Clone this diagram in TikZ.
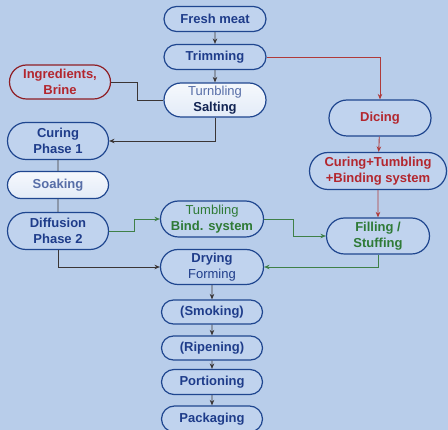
\documentclass[tikz,border=0pt]{standalone}
\usepackage{fontspec}
\setmainfont{Liberation Sans}
\usetikzlibrary{shapes.misc,arrows.meta}
\definecolor{bgblue}{HTML}{B8CDEA}
\definecolor{boxfill}{HTML}{C0D3EE}
\definecolor{boxline}{HTML}{1F468F}
\definecolor{txtblue}{HTML}{1E3C8A}
\definecolor{txtred}{HTML}{B3262E}
\definecolor{txtgreen}{HTML}{2E7A36}
\definecolor{lnred}{HTML}{B03A3A}
\definecolor{lngreen}{HTML}{3F8048}
\definecolor{lndark}{HTML}{3A3535}
\tikzset{
  pbox/.style={rounded rectangle, draw=boxline, line width=1.2pt, fill=boxfill,
    minimum width=104pt, minimum height=25pt, inner sep=1pt, align=center,
    text=txtblue, font=\fontsize{13}{16}\selectfont\bfseries},
  redbox/.style={pbox, draw=txtred!80!black},
  lightbox/.style={pbox, top color=white!85!boxfill, bottom color=white!55!boxfill},
  arr/.style={-{Stealth[length=5.5pt,width=4.5pt]}, line width=0.9pt, draw=lndark},
  ln/.style={line width=0.9pt, draw=lndark},
  redarr/.style={arr, draw=lnred},
  grnarr/.style={arr, draw=lngreen},
}
\begin{document}
\begin{tikzpicture}[x=1pt,y=-1pt]
\fill[bgblue] (0,0) rectangle (448,430);
\useasboundingbox (0,0) rectangle (448,430);

\node[pbox] (fresh) at (215,19) {Fresh meat};
\node[pbox] (trim) at (215,57) {Trimming};
\node[redbox, text=txtred, minimum width=103pt, minimum height=34pt] (ingr) at (60,82) {Ingredients,\\Brine};
\node[lightbox, minimum height=34pt] (salt) at (215,100) {{\mdseries\color{txtblue!75!white}Turnbling}\\{\color{txtblue!60!black}Salting}};
\node[pbox, minimum width=103pt, minimum height=37pt] (cur1) at (58,141) {Curing\\Phase 1};
\node[lightbox, minimum width=103pt, minimum height=27pt, text=txtblue!75!white] (soak) at (58,185) {Soaking};
\node[pbox, minimum width=103pt, minimum height=37pt] (diff) at (58,231) {Diffusion\\Phase 2};
\node[pbox, minimum width=105pt, minimum height=36pt, text=txtgreen] (tumb) at (212,219) {{\mdseries Tumbling}\\Bind. system};
\node[pbox, minimum width=105pt, minimum height=35pt] (dry) at (212,267) {Drying\\{\mdseries Forming}};
\node[pbox, minimum width=103pt, minimum height=24pt] (smok) at (212,312) {(Smoking)};
\node[pbox, minimum width=103pt, minimum height=24pt] (ripe) at (212,348) {(Ripening)};
\node[pbox, minimum width=103pt, minimum height=25pt] (port) at (212,382) {Portioning};
\node[pbox, minimum width=103pt, minimum height=26pt] (pack) at (212,419) {Packaging};
\node[pbox, minimum width=104pt, minimum height=36pt, text=txtred] (dice) at (380,118) {Dicing};
\node[pbox, minimum width=139pt, minimum height=37pt, text=txtred] (ctb) at (378,171) {Curing+Tumbling\\+Binding system};
\node[pbox, minimum width=105pt, minimum height=36pt, text=txtgreen] (fill) at (378,236) {Filling /\\Stuffing};

\draw[arr] (fresh) -- (trim);
\draw[arr] (trim) -- (salt);
\draw[ln] (ingr.east) -- ++(26,0) |- (salt.west);
\draw[redarr] (trim.east) -| (dice.north);
\draw[arr] (salt.south) |- (cur1.east);
\draw[ln] (cur1) -- (soak);
\draw[ln] (soak) -- (diff);
\draw[grnarr] (diff.east) -- ++(25,0) |- (tumb.west);
\draw[arr] (diff.south) |- (dry.west);
\draw[grnarr] (tumb.east) -- ++(29,0) |- (fill.west);
\draw[redarr] (dice) -- (ctb);
\draw[redarr] (ctb) -- (fill);
\draw[grnarr] (fill.south) |- (dry.east);
\draw[arr] (dry) -- (smok);
\draw[arr] (smok) -- (ripe);
\draw[arr] (ripe) -- (port);
\draw[arr] (port) -- (pack);
\end{tikzpicture}
\end{document}
